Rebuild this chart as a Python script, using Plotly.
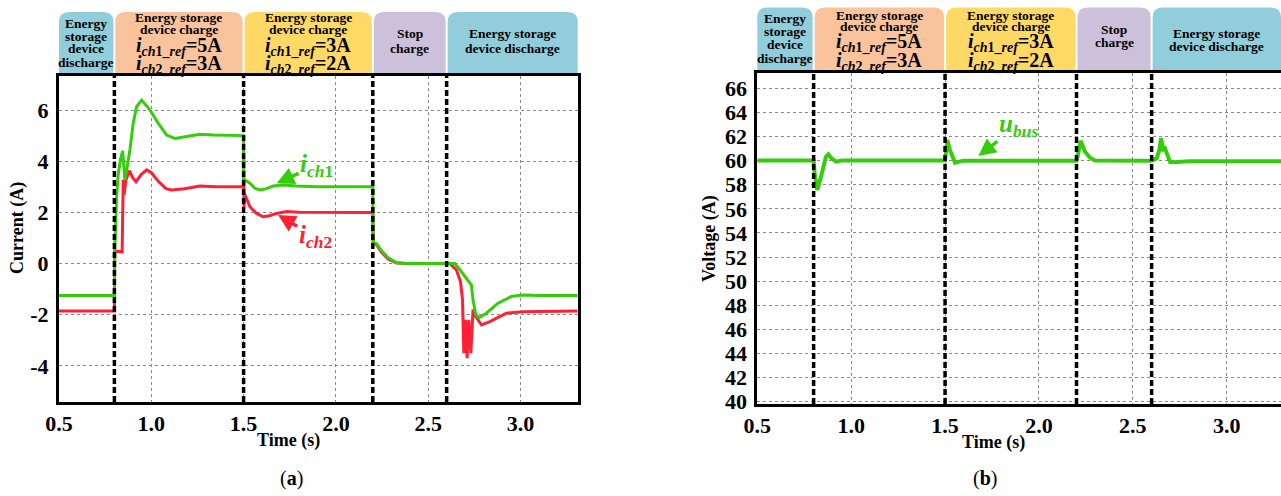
import plotly.graph_objects as go

# ---------------- data ----------------
phase_bounds = [0.5, 0.8, 1.5, 2.2, 2.6]

t_ich1 = [0.5, 0.8, 0.802, 0.812, 0.821, 0.834, 0.845, 0.852, 0.857, 0.87, 0.884, 0.902, 0.92, 0.948,
          0.993, 1.038, 1.083, 1.128, 1.191, 1.263, 1.335, 1.5, 1.5, 1.507, 1.534, 1.56, 1.588, 1.62,
          1.66, 1.714, 1.787, 1.9, 2.2, 2.202, 2.22, 2.247, 2.283, 2.328, 2.382, 2.644, 2.68, 2.707,
          2.72, 2.734, 2.743, 2.758, 2.776, 2.815, 2.878, 2.95, 3.01, 3.1, 3.31]
v_ich1 = [-1.25, -1.25, 0.5, 2.6, 3.5, 4.1, 4.4, 3.8, 3.27, 3.8, 4.44, 5.48, 6.13, 6.39,
          6.0, 5.48, 5.02, 4.89, 4.96, 5.05, 5.02, 5.0, 3.27, 3.27, 3.14, 2.95, 2.875, 2.92,
          3.03, 3.07, 3.03, 3.0, 3.0, 0.8, 0.78, 0.5, 0.23, 0.04, 0.0, 0.0, -0.32, -0.57,
          -0.68, -0.84, -1.42, -2.0, -2.11, -1.94, -1.55, -1.29, -1.23, -1.25, -1.25]

t_ich2 = [0.5, 0.8, 0.802, 0.842, 0.848, 0.853, 0.862, 0.881, 0.9, 0.917, 0.945, 0.975, 1.0, 1.04,
          1.08, 1.11, 1.18, 1.263, 1.35, 1.5, 1.5005, 1.502, 1.504, 1.512, 1.534, 1.57, 1.606, 1.64,
          1.679, 1.733, 1.8, 2.2, 2.202, 2.22, 2.247, 2.283, 2.328, 2.382, 2.617, 2.653, 2.675,
          2.686, 2.693, 2.702, 2.711, 2.72, 2.731, 2.743, 2.758, 2.789, 2.834, 2.924, 3.014, 3.31]
v_ich2 = [-1.85, -1.85, 0.5, 0.45, 3.27, 2.7, 3.25, 3.63, 3.35, 3.2, 3.48, 3.66, 3.55, 3.2,
          2.93, 2.875, 2.92, 3.03, 3.0, 3.0, 4.2, 2.2, 2.75, 2.61, 2.22, 1.96, 1.83, 1.87,
          1.96, 2.03, 2.01, 2.0, 0.8, 0.74, 0.44, 0.18, 0.02, 0.0, 0.0, -0.25, -0.7,
          -1.42, -3.5, -2.2, -3.7, -2.2, -3.5, -1.8, -2.07, -2.4, -2.27, -1.94, -1.88, -1.85]

t_ubus = [0.5, 0.8, 0.805, 0.8195, 0.835, 0.851, 0.865, 0.878, 0.895, 0.919, 0.95, 1.5, 1.505,
          1.512, 1.525, 1.553, 1.597, 2.2, 2.205, 2.222, 2.245, 2.272, 2.298, 2.6, 2.627, 2.64,
          2.65, 2.662, 2.671, 2.698, 2.715, 2.8, 3.289]
v_ubus = [60.02, 60.02, 59.0, 57.56, 58.4, 59.5, 60.3, 60.52, 60.2, 59.92, 60.02, 60.02, 60.8,
          61.71, 60.9, 59.83, 60.0, 60.0, 60.3, 61.65, 60.74, 60.24, 60.02, 60.0, 60.2, 60.8,
          61.85, 60.94, 61.02, 59.9, 59.86, 59.94, 59.94]

left_yticks = [-4, -2, 0, 2, 4, 6]
left_yticktext = ["-4", "-2", "0", "2", "4", "6"]
right_yticks = list(range(40, 67, 2))
right_yticktext = [str(v) for v in right_yticks]
x_ticks = [0.5, 1.0, 1.5, 2.0, 2.5, 3.0]
x_ticktext = ["0.5", "1.0", "1.5", "2.0", "2.5", "3.0"]

header_colors = ["#92CDDC", "#F9C39C", "#FFD966", "#CCC0DA", "#92CDDC"]
I1_A = "<b><i>i</i><sub><i>ch</i>1_<i>ref</i></sub>=5A</b>"
I2_A = "<b><i>i</i><sub><i>ch</i>2_<i>ref</i></sub>=3A</b>"
I1_B = "<b><i>i</i><sub><i>ch</i>1_<i>ref</i></sub>=3A</b>"
I2_B = "<b><i>i</i><sub><i>ch</i>2_<i>ref</i></sub>=2A</b>"
header_texts = [
    ["Energy", "storage", "device", "discharge"],
    ["Energy storage", "device charge", I1_A, I2_A],
    ["Energy storage", "device charge", I1_B, I2_B],
    ["Stop", "charge"],
    ["Energy storage", "device discharge"],
]

# ---------------- layout geometry ----------------
W, H = 1281, 496
FONT = "Liberation Serif, Times New Roman, serif"
GREEN = "#35CC0C"
RED = "#FF2036"

L_dom = [59 / W, 577.7 / W]
L_ydom = [1 - 402 / H, 1 - 76 / H]
L_rng = [0.5, 3.31]
L_yrng = [-5.41, 7.33]
R_dom = [757.3 / W, 1.0]
R_ydom = [1 - 404 / H, 1 - 72.7 / H]
R_rng = [0.5, 3.289]
R_yrng = [39.8, 67.3]


def bold(lst):
    return [f"<b>{s}</b>" for s in lst]


fig = go.Figure()
fig.add_trace(go.Scatter(x=t_ich2, y=v_ich2, mode="lines", line=dict(color=RED, width=3),
                         xaxis="x", yaxis="y", showlegend=False))
fig.add_trace(go.Scatter(x=t_ich1, y=v_ich1, mode="lines", line=dict(color=GREEN, width=3),
                         xaxis="x", yaxis="y", showlegend=False))
fig.add_trace(go.Scatter(x=t_ubus, y=v_ubus, mode="lines", line=dict(color=GREEN, width=4),
                         xaxis="x2", yaxis="y2", showlegend=False))

tickfont = dict(family=FONT, size=22, color="black")
common_x = dict(tickmode="array", tickvals=x_ticks, ticktext=bold(x_ticktext), showgrid=True,
                gridcolor="#8a8a8a", griddash="dot", gridwidth=1, showline=True,
                linecolor="black", linewidth=3, ticks="", tickfont=tickfont, zeroline=False,
                automargin=False)
common_y = dict(tickmode="array", showgrid=True, gridcolor="#8a8a8a", griddash="dot", gridwidth=1,
                showline=True, linecolor="black", linewidth=3, ticks="", tickfont=tickfont,
                zeroline=False, ticklabelstandoff=3, automargin=False)

fig.update_layout(
    width=W, height=H, margin=dict(l=0, r=0, t=0, b=0, autoexpand=False),
    paper_bgcolor="white", plot_bgcolor="white",
    xaxis=dict(common_x, range=L_rng, domain=L_dom, anchor="y", mirror=True),
    yaxis=dict(common_y, range=L_yrng, domain=L_ydom, anchor="x", tickvals=left_yticks,
               ticktext=bold(left_yticktext), mirror=True),
    xaxis2=dict(common_x, range=R_rng, domain=R_dom, anchor="y2", mirror=True),
    yaxis2=dict(common_y, range=R_yrng, domain=R_ydom, anchor="x2", tickvals=right_yticks,
                ticktext=bold(right_yticktext), mirror=False),
)

shapes = []
annotations = []


def to_paper(t, dom, rng):
    return dom[0] + (t - rng[0]) / (rng[1] - rng[0]) * (dom[1] - dom[0])


def add_panel(xref, yref, dom, rng, ydom, top_px, text_ys):
    bounds = phase_bounds + [rng[1]]
    y0 = ydom[1]
    y1 = 1 - top_px / H
    rx, ry = 10 / W, 10 / H
    for i in range(5):
        xa = to_paper(bounds[i], dom, rng) + (1 / W if i > 0 else 0)
        xb = to_paper(bounds[i + 1], dom, rng) - (1 / W if i < 4 else 0)
        xb = min(xb, 1.0)
        path = (f"M{xa},{y0} L{xa},{y1 - ry} Q{xa},{y1} {xa + rx},{y1} "
                f"L{xb - rx},{y1} Q{xb},{y1} {xb},{y1 - ry} L{xb},{y0} Z")
        shapes.append(dict(type="path", path=path, xref="paper", yref="paper",
                           fillcolor=header_colors[i], line=dict(width=0), layer="below"))
        cx = (xa + xb) / 2
        for txt, ypx in zip(header_texts[i], text_ys[i]):
            big = txt.startswith("<b><i>i")
            annotations.append(dict(
                x=cx, y=1 - ypx / H, xref="paper", yref="paper", showarrow=False,
                text=txt if big else f"<b>{txt}</b>",
                font=dict(family=FONT, size=20 if big else 13.5, color="black"),
                xanchor="center", yanchor="middle"))
    for b in phase_bounds[1:]:
        shapes.append(dict(type="line", xref=xref, yref=f"{yref} domain", x0=b, x1=b, y0=0, y1=1,
                           line=dict(color="black", width=3.5, dash="6px,3px"), layer="above"))


add_panel("x", "y", L_dom, L_rng, L_ydom, 12,
          [[23, 36, 49, 62], [17.5, 29.5, 46, 64], [17.5, 29.5, 46, 64], [33, 49], [33, 49]])
add_panel("x2", "y2", R_dom, R_rng, R_ydom, 7.5,
          [[18.5, 32, 45, 59], [15, 26.5, 42.5, 61], [15, 26.5, 42.5, 61], [29, 43], [33, 47]])

lab = dict(family=FONT, size=18, color="black")


def txt_ann(xpx, ypx, text, font, angle=0):
    return dict(x=xpx / W, y=1 - ypx / H, xref="paper", yref="paper", text=text,
                textangle=angle, showarrow=False, font=font, xanchor="center", yanchor="middle")


annotations += [
    txt_ann(17, 228, "<b>Current (A)</b>", lab, -90),
    txt_ann(288, 440, "<b>Time (s)</b>", lab),
    txt_ann(709, 238, "<b>Voltage (A)</b>", lab, -90),
    txt_ann(993, 442, "<b>Time (s)</b>", lab),
    txt_ann(291, 478, "(<b>a</b>)", dict(family=FONT, size=20, color="black")),
    txt_ann(985, 478, "(<b>b</b>)", dict(family=FONT, size=20, color="black")),
    # curve labels with arrows
    dict(x=1.679, y=3.14, xref="x", yref="y", ax=40, ay=-18,
         text="<b><i>i</i><sub><i>ch</i>1</sub></b>", font=dict(family=FONT, size=25, color=GREEN),
         showarrow=True, arrowhead=2, arrowsize=1, arrowwidth=3.5, arrowcolor=GREEN, standoff=0),
    dict(x=1.687, y=1.9, xref="x", yref="y", ax=37, ay=22,
         text="<b><i>i</i><sub><i>ch</i>2</sub></b>", font=dict(family=FONT, size=25, color=RED),
         showarrow=True, arrowhead=2, arrowsize=1, arrowwidth=3.5, arrowcolor=RED, standoff=0),
    dict(x=1.677, y=60.38, xref="x2", yref="y2", ax=40, ay=-31,
         text="<b><i>u</i><sub><i>bus</i></sub></b>", font=dict(family=FONT, size=25, color=GREEN),
         showarrow=True, arrowhead=2, arrowsize=1, arrowwidth=3.5, arrowcolor=GREEN, standoff=0),
]

fig.update_layout(shapes=shapes, annotations=annotations)
fig.write_html("out.html")
